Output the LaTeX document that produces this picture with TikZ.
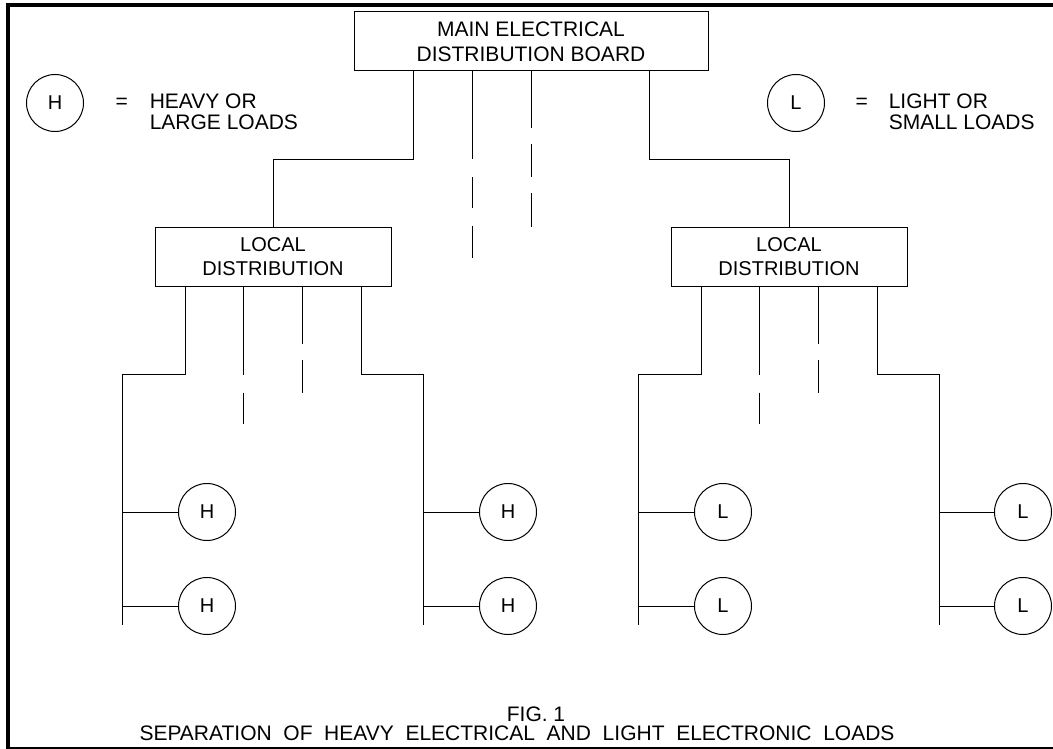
\documentclass[tikz,border=0pt]{standalone}
\usepackage{fontspec}
\setmainfont{Liberation Sans}
\usetikzlibrary{positioning}
\tikzset{
  board/.style={
    draw,
    rectangle,
    align=center,
    inner sep=0pt,
    minimum width=354pt,
    minimum height=59pt,
    font=\fontsize{21}{25}\selectfont,
  },
  localbox/.style={board, minimum width=236pt, font=\fontsize{20}{24}\selectfont},
  load/.style={draw, circle, inner sep=0pt, minimum size=57pt, font=\fontsize{20}{20}\selectfont},
  lbl/.style={inner sep=0pt, align=left, font=\fontsize{21}{21}\selectfont},
  capt/.style={inner sep=0pt, font=\fontsize{21}{21}\selectfont},
  hidA/.style={dash pattern=on 88pt off 18pt on 31pt off 17pt},
  hidB/.style={dash pattern=on 57pt off 16pt on 33pt off 16pt},
}

\begin{document}
\begin{tikzpicture}[x=1pt, y=-1pt, line width=1pt]
  \useasboundingbox (0,0) rectangle (1053,749);
  % sheet frame
  \draw[line width=4pt] (1053,5.5) -- (7.5,5.5) -- (7.5,749);
  \draw[line width=1.5pt] (7.5,748) -- (1053,748);

  % boards
  \node[board] (main) at (531,41.5) {MAIN ELECTRICAL\\DISTRIBUTION BOARD};
  \node[localbox] (locH) at (273,256.5) {LOCAL\\DISTRIBUTION};
  \node[localbox] (locL) at (789,256.5) {LOCAL\\DISTRIBUTION};

  \draw ([xshift=-118pt]main.south) -- ++(0,88) -| (locH.north);
  \draw ([xshift=118pt]main.south) -- ++(0,88) -| (locL.north);
  \draw[hidA] ([xshift=-59pt]main.south) -- ++(0,186);
  \draw[hidB] (main.south) -- ++(0,155);

  % load buses
  \coordinate (busA) at (122,625);
  \coordinate (busB) at (423,625);
  \coordinate (busC) at (638,625);
  \coordinate (busD) at (939,625);

  \draw ([xshift=-88pt]locH.south) -- ++(0,88) -| (busA);
  \draw ([xshift=88pt]locH.south) -- ++(0,88) -| (busB);
  \draw[hidA] ([xshift=-29.5pt]locH.south) -- ++(0,137);
  \draw[hidB] ([xshift=29.5pt]locH.south) -- ++(0,106);

  \draw ([xshift=-88pt]locL.south) -- ++(0,88) -| (busC);
  \draw ([xshift=88pt]locL.south) -- ++(0,88) -| (busD);
  \draw[hidA] ([xshift=-29.5pt]locL.south) -- ++(0,137);
  \draw[hidB] ([xshift=29.5pt]locL.south) -- ++(0,106);

  % loads
  \node[load] (h1) at (207,512) {H};
  \node[load] (h2) at (207,606) {H};
  \node[load] (h3) at (508,512) {H};
  \node[load] (h4) at (508,606) {H};
  \node[load] (l1) at (723,512) {L};
  \node[load] (l2) at (723,606) {L};
  \node[load] (l3) at (1023,512) {L};
  \node[load] (l4) at (1023,606) {L};

  \draw (h1.west) -- (h1.west -| busA);
  \draw (h2.west) -- (h2.west -| busA);
  \draw (h3.west) -- (h3.west -| busB);
  \draw (h4.west) -- (h4.west -| busB);
  \draw (l1.west) -- (l1.west -| busC);
  \draw (l2.west) -- (l2.west -| busC);
  \draw (l3.west) -- (l3.west -| busD);
  \draw (l4.west) -- (l4.west -| busD);

  % key
  \node[load] (hkey) at (55,103) {H};
  \node[lbl, right=31pt of hkey] (hEq) {=};
  \node[lbl, right=21pt of hEq, yshift=-9pt] (hTxt) {HEAVY OR\\LARGE LOADS};
  \node[load] (lkey) at (796,103) {L};
  \node[lbl, right=30pt of lkey] (lEq) {=};
  \node[lbl, right=20pt of lEq, yshift=-9pt] (lTxt) {LIGHT OR\\SMALL LOADS};

  % caption
  \node[capt, anchor=base] (fig) at (536,721) {FIG. 1};
  \node[capt, anchor=base] (title) at (517,740.5) {SEPARATION~ OF~ HEAVY~ ELECTRICAL~ AND~ LIGHT~ ELECTRONIC~ LOADS};
\end{tikzpicture}
\end{document}
